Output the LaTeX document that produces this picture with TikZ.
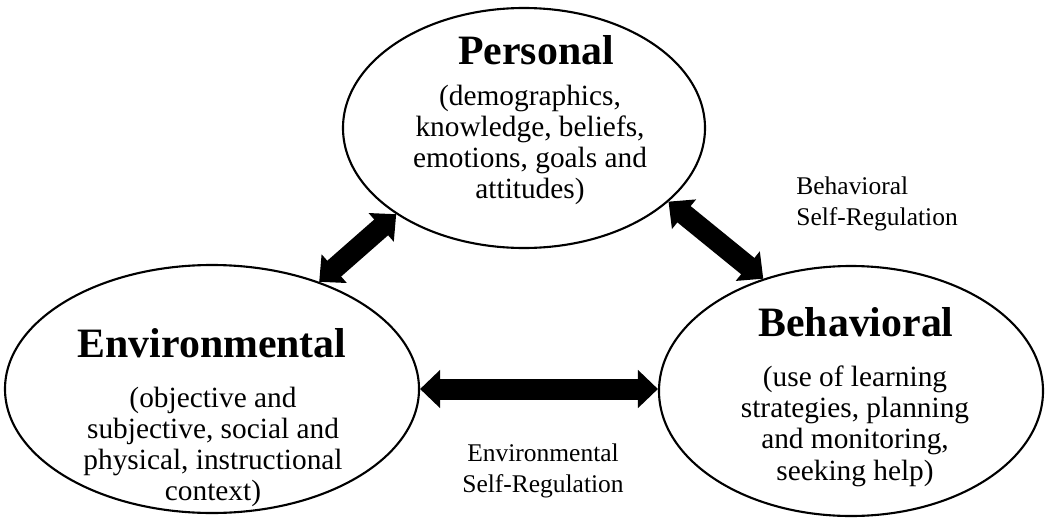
\documentclass[tikz,border=0pt]{standalone}
\usepackage{fontspec}
\setmainfont{Liberation Serif}
\usetikzlibrary{shapes.geometric,arrows.meta}
\begin{document}
\begin{tikzpicture}[semithick,
  area/.style={draw,ellipse,line width=1.2pt,inner sep=0pt},
  title/.style={anchor=base,font=\fontsize{23.8}{26}\selectfont\bfseries},
  body/.style={align=center,font=\fontsize{16.7}{17.8}\selectfont},
  tag/.style={font=\fontsize{14.5}{18}\selectfont},
  bigarrow/.style={line width=0.42cm,
    {Triangle[length=0.4cm,width=0.74cm]}-{Triangle[length=0.4cm,width=0.74cm]}}]
\useasboundingbox (0,0) rectangle (20.9,10.38);
\node[area,minimum width=7.24cm,minimum height=4.8cm] (pers) at (10.48,7.82) {};
\node[area,minimum width=8.28cm,minimum height=4.96cm] (env) at (4.24,2.6) {};
\node[area,minimum width=7.68cm,minimum height=5.0cm] (beh) at (17.02,2.56) {};
\node[title] (perst) at (10.72,9.1) {Personal};
\node[body] (persb) at (10.6,7.48) {(demographics,\\knowledge, beliefs,\\emotions, goals and\\attitudes)};
\node[title] (envt) at (4.24,3.24) {Environmental};
\node[body] (envb) at (4.26,1.44) {(objective and\\subjective, social and\\physical, instructional\\context)};
\node[title] (beht) at (17.12,3.66) {Behavioral};
\node[body] (behb) at (17.1,1.86) {(use of learning\\strategies, planning\\and monitoring,\\seeking help)};
\node[tag,anchor=west,align=left] (behsr) at (15.8,6.3) {Behavioral\\Self-Regulation};
\node[tag,align=center] (envsr) at (10.86,0.96) {Environmental\\Self-Regulation};
\draw[bigarrow] (env.45) -- (pers.214);
\draw[bigarrow] (pers.333) -- (beh.128);
\draw[bigarrow] (env.east) -- (env.east -| beh.west);
\end{tikzpicture}
\end{document}
